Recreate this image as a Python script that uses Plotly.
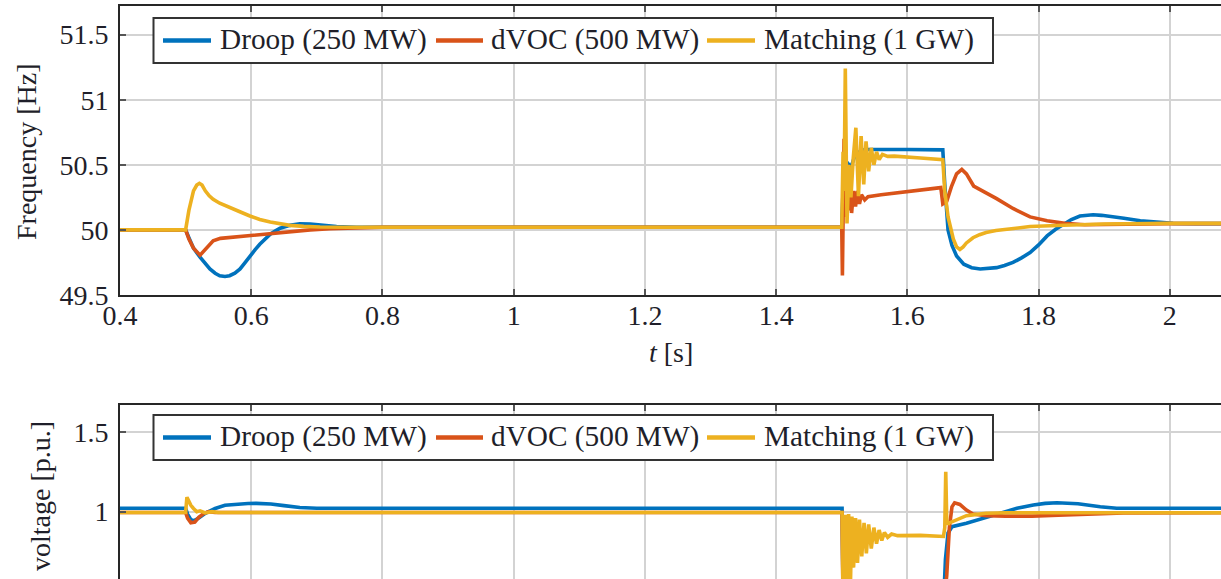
import plotly.graph_objects as go
from plotly.subplots import make_subplots

# ---------------- frequency traces [Hz] ----------------
t_f_droop = [0.4, 0.5, 0.505, 0.512, 0.522, 0.53, 0.537, 0.545, 0.552, 0.56, 0.567, 0.575,
             0.583, 0.59, 0.598, 0.606, 0.613, 0.621, 0.629, 0.637,
             0.644, 0.659, 0.674, 0.69, 0.705, 0.73, 0.76, 0.8, 1.0, 1.4998,
             1.5, 1.503, 1.508, 1.514, 1.52, 1.527, 1.535, 1.6, 1.654, 1.657,
             1.662, 1.668, 1.675, 1.686, 1.698, 1.711, 1.723, 1.736, 1.748, 1.761, 1.774, 1.787,
             1.8, 1.813, 1.826, 1.838, 1.85, 1.863, 1.873, 1.883, 1.896, 1.909, 1.93, 1.955,
             1.98, 2.005, 2.04, 2.1]
f_droop = [50.0, 50.0, 49.94, 49.86, 49.79, 49.74, 49.70, 49.667, 49.648, 49.642, 49.648, 49.668,
           49.70, 49.745, 49.80, 49.848, 49.89, 49.93, 49.967, 49.993,
           50.013, 50.035, 50.047, 50.045, 50.035, 50.025, 50.02, 50.02, 50.02, 50.02,
           50.02, 50.45, 50.52, 50.48, 50.57, 50.6, 50.618, 50.618, 50.615, 50.35,
           50.0, 49.88, 49.8, 49.737, 49.71, 49.70, 49.702, 49.71, 49.727, 49.75, 49.785, 49.826,
           49.885, 49.954, 50.005, 50.044, 50.08, 50.107, 50.114, 50.116, 50.112, 50.105, 50.09,
           50.07, 50.058, 50.05, 50.048, 50.048]

t_f_dvoc = [0.4, 0.5, 0.505, 0.512, 0.522, 0.532, 0.542, 0.553, 0.563, 0.58, 0.598, 0.629,
            0.66, 0.69, 0.72, 0.76, 0.8, 1.0, 1.4998,
            1.5, 1.501, 1.5035, 1.506, 1.508, 1.51, 1.512, 1.515, 1.518, 1.521, 1.524, 1.527,
            1.53, 1.535, 1.54, 1.56, 1.6, 1.651, 1.654, 1.66, 1.667, 1.675, 1.683, 1.69,
            1.701, 1.711, 1.736, 1.761, 1.787, 1.813, 1.84, 1.87, 1.92, 2.0, 2.1]
f_dvoc = [50.0, 50.0, 49.93, 49.86, 49.806, 49.86, 49.916, 49.935, 49.94, 49.947, 49.955, 49.975,
          49.99, 50.0, 50.01, 50.015, 50.02, 50.02, 50.02,
          50.02, 49.65, 50.7, 50.1, 50.5, 50.15, 50.35, 50.13, 50.3, 50.18, 50.3, 50.2,
          50.27, 50.23, 50.255, 50.27, 50.295, 50.325, 50.2, 50.22, 50.33, 50.43, 50.465, 50.43,
          50.337, 50.31, 50.24, 50.165, 50.1, 50.07, 50.05, 50.04, 50.045, 50.048, 50.048]

t_f_match = [0.4, 0.5, 0.505, 0.512, 0.517, 0.521, 0.525, 0.53, 0.536, 0.542, 0.552, 0.563,
             0.58, 0.598, 0.613, 0.629, 0.644, 0.659, 0.68, 0.705, 0.75, 0.8, 1.0, 1.4998,
             1.5, 1.502, 1.5035, 1.5054, 1.508, 1.511, 1.514, 1.5175, 1.5215, 1.5255, 1.5295,
             1.5335, 1.537, 1.541, 1.545, 1.549, 1.553, 1.557, 1.562, 1.57, 1.58, 1.62, 1.654,
             1.657, 1.662, 1.67, 1.675, 1.68, 1.685, 1.69, 1.7, 1.71, 1.72, 1.735, 1.752, 1.787,
             1.838, 1.9, 2.0, 2.1]
f_match = [50.0, 50.0, 50.15, 50.3, 50.345, 50.358, 50.345, 50.3, 50.262, 50.235, 50.205, 50.184,
           50.145, 50.107, 50.08, 50.06, 50.045, 50.035, 50.027, 50.022, 50.02, 50.02, 50.02, 50.02,
           50.02, 50.6, 50.3, 51.24, 50.05, 50.5, 50.25, 50.55, 50.785, 50.26, 50.72,
           50.35, 50.68, 50.45, 50.63, 50.5, 50.6, 50.54, 50.58, 50.565, 50.567, 50.552, 50.54,
           50.3, 50.1, 49.93, 49.87, 49.85, 49.87, 49.9, 49.94, 49.963, 49.98, 49.995, 50.005, 50.026,
           50.036, 50.045, 50.05, 50.05]

# ---------------- voltage traces [p.u.] ----------------
t_v_droop = [0.4, 0.5, 0.503, 0.508, 0.513, 0.52, 0.53, 0.545, 0.56, 0.58, 0.595, 0.608, 0.62,
             0.63, 0.65, 0.674, 0.7, 1.0, 1.5005, 1.502, 1.51, 1.655, 1.658, 1.662, 1.668, 1.69,
             1.715, 1.741, 1.767, 1.792, 1.81, 1.828, 1.845, 1.86, 1.894, 1.919, 2.1]
v_droop = [1.021, 1.021, 0.985, 0.95, 0.944, 0.96, 0.99, 1.02, 1.04, 1.048, 1.051, 1.052, 1.051,
           1.048, 1.038, 1.026, 1.021, 1.021, 1.021, 0.5, 0.4, 0.4, 0.7, 0.867, 0.906, 0.927,
           0.958, 0.99, 1.021, 1.042, 1.052, 1.056, 1.055, 1.05, 1.031, 1.021, 1.021]

t_v_dvoc = [0.4, 0.5, 0.503, 0.508, 0.514, 0.52, 0.528, 0.535, 0.545, 1.5005, 1.502, 1.655,
            1.66, 1.664, 1.668, 1.672, 1.68, 1.69, 1.7, 1.72, 1.75, 1.79, 1.83, 1.87, 1.93, 2.1]
v_dvoc = [0.995, 0.995, 0.96, 0.93, 0.935, 0.965, 0.99, 1.0, 0.995, 0.995, 0.4, 0.4,
          0.6, 0.9, 1.03, 1.055, 1.045, 1.01, 0.985, 0.975, 0.972, 0.972, 0.978, 0.985, 0.992, 0.993]

t_v_match = [0.4, 0.5, 0.502, 0.505, 0.508, 0.512, 0.517, 0.522, 0.53, 0.54, 0.55, 1.5005,
             1.502, 1.505, 1.508, 1.5105, 1.513, 1.5155, 1.518, 1.521, 1.524, 1.527, 1.5305,
             1.534, 1.5375, 1.541, 1.545, 1.549, 1.553, 1.557, 1.561, 1.565, 1.57, 1.576, 1.585,
             1.62, 1.655, 1.657, 1.6585, 1.66, 1.662, 1.664, 1.67, 1.68, 1.69, 1.7, 1.72, 1.75, 2.1]
v_match = [0.995, 0.995, 1.09, 1.06, 1.04, 1.02, 1.0, 1.005, 0.992, 1.0, 0.995, 0.995,
           0.45, 0.98, 0.45, 0.985, 0.5, 0.97, 0.65, 0.96, 0.68, 0.95, 0.72,
           0.93, 0.74, 0.92, 0.77, 0.9, 0.8, 0.885, 0.82, 0.87, 0.84, 0.86, 0.85,
           0.852, 0.845, 0.9, 1.25, 0.95, 0.92, 0.93, 0.94, 0.958, 0.975, 0.98, 0.99, 0.993, 0.993]

# ---------------- axes ----------------
x_ticks = [0.4, 0.6, 0.8, 1.0, 1.2, 1.4, 1.6, 1.8, 2.0]
x_ticktext = ["0.4", "0.6", "0.8", "1", "1.2", "1.4", "1.6", "1.8", "2"]
f_ticks = [49.5, 50, 50.5, 51, 51.5]
f_ticktext = ["49.5", "50", "50.5", "51", "51.5"]
v_ticks = [0.5, 1.0, 1.5]
v_ticktext = ["0.5", "1", "1.5"]

names = ["Droop (250 MW)", "dVOC (500 MW)", "Matching (1 GW)"]
colors = ["#0072BD", "#D95319", "#EDB120"]

W, H = 1221, 579
ML, MT = 120, 6
FONT = "Liberation Serif"
FS = 28
TXT = "#1f1f2a"

fig = make_subplots(rows=2, cols=1)

freq = [(t_f_droop, f_droop), (t_f_dvoc, f_dvoc), (t_f_match, f_match)]
volt = [(t_v_droop, v_droop), (t_v_dvoc, v_dvoc), (t_v_match, v_match)]
for (tt, yy), nm, c in zip(freq, names, colors):
    fig.add_trace(go.Scatter(x=tt, y=yy, mode="lines", name=nm, showlegend=False,
                             line=dict(color=c, width=3.6)), row=1, col=1)
for (tt, yy), nm, c in zip(volt, names, colors):
    fig.add_trace(go.Scatter(x=tt, y=yy, mode="lines", name=nm, showlegend=False,
                             line=dict(color=c, width=3.6)), row=2, col=1)


def py(p):
    # pixel row -> paper coordinate
    return (H - p) / (H - MT)


def px(p):
    return (p - ML) / (W - ML)


grid = dict(showgrid=True, gridcolor="#d3d3d3", gridwidth=1.5, zeroline=False,
            showline=True, linecolor="#262626", linewidth=2, automargin=False,
            ticks="inside", ticklen=6, tickwidth=1.5, tickcolor="#555555",
            tickfont=dict(family=FONT, size=FS, color=TXT))

x_range = [0.4, 2.078]
fig.update_layout(
    xaxis=dict(grid, range=x_range, tickvals=x_ticks, ticktext=x_ticktext, mirror="ticks",
               domain=[0, 1], ticklabelstandoff=-6),
    yaxis=dict(grid, range=[49.5, 51.72], tickvals=f_ticks, ticktext=f_ticktext,
               domain=[py(295), 1], ticklabelstandoff=4),
    xaxis2=dict(grid, range=x_range, tickvals=x_ticks, ticktext=x_ticktext, side="top",
                showticklabels=False, domain=[0, 1], anchor="y2"),
    yaxis2=dict(grid, range=[0.579, 1.667], tickvals=v_ticks, ticktext=v_ticktext,
                domain=[0, py(405)], ticklabelstandoff=4),
)


# legend box: frame, line samples and entry labels, one box per panel
def add_legend_box(top):
    fig.add_shape(type="rect", xref="paper", yref="paper",
                  x0=px(153.5), x1=px(993), y0=py(top + 45), y1=py(top),
                  line=dict(color="#333333", width=2), fillcolor="white", layer="above")
    mid = top + 22.5
    sample_x = [(163, 211), (436, 483), (707, 755)]
    label_x = [218, 489, 762]
    for (a, b), lx, nm, c in zip(sample_x, label_x, names, colors):
        fig.add_shape(type="line", xref="paper", yref="paper",
                      x0=px(a), x1=px(b), y0=py(mid), y1=py(mid),
                      line=dict(color=c, width=4.5), layer="above")
        fig.add_annotation(text=nm, xref="paper", yref="paper", x=px(lx), y=py(mid - 1),
                           xanchor="left", yanchor="middle", showarrow=False,
                           font=dict(family=FONT, size=29.3, color=TXT))


add_legend_box(18)
add_legend_box(415)

fig.add_annotation(text="Frequency [Hz]", textangle=-90, xref="paper", yref="paper",
                   x=px(26), y=py(152), xanchor="center", yanchor="middle", showarrow=False,
                   font=dict(family=FONT, size=FS, color=TXT))
fig.add_annotation(text="voltage [p.u.]", textangle=-90, xref="paper", yref="paper",
                   x=px(40), y=py(496), xanchor="center", yanchor="middle", showarrow=False,
                   font=dict(family=FONT, size=FS, color=TXT))
fig.add_annotation(text="<i>t</i> [s]", xref="x", yref="paper", x=1.24, y=py(352),
                   xanchor="center", yanchor="middle",
                   showarrow=False, font=dict(family=FONT, size=FS, color=TXT))

fig.update_layout(width=W, height=H,
                  margin=dict(l=ML, r=0, t=MT, b=0, autoexpand=False),
                  paper_bgcolor="white", plot_bgcolor="white")

fig.write_html("out.html")
